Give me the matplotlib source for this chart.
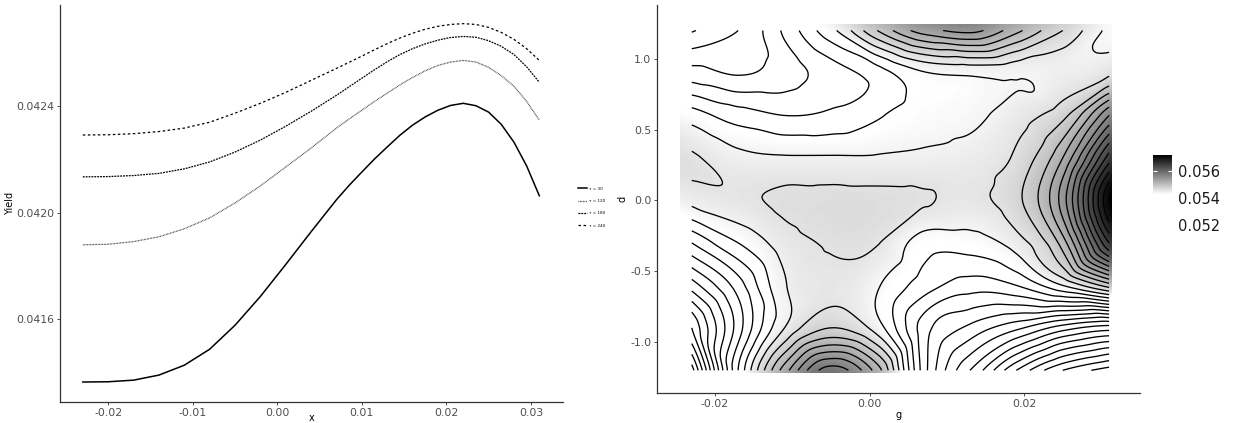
import matplotlib
matplotlib.use("Agg")
import matplotlib.pyplot as plt
import numpy as np
from matplotlib.colors import LinearSegmentedColormap, Normalize
from matplotlib.tri import Triangulation, CubicTriInterpolator

# ---- left panel: yield curves ----
x_vals = [-0.023, -0.020, -0.017, -0.014, -0.011, -0.008, -0.005, -0.002, 0.001,
          0.004, 0.007, 0.0085, 0.010, 0.0115, 0.013, 0.0145, 0.016, 0.0175,
          0.019, 0.0205, 0.022, 0.0235, 0.025, 0.0265, 0.028, 0.0295, 0.031]
yield_30 = [0.041365, 0.041366, 0.041372, 0.041391, 0.041428, 0.041488, 0.041578,
            0.041686, 0.041806, 0.041929, 0.042049, 0.042103, 0.042153, 0.042202,
            0.042247, 0.042291, 0.042329, 0.042360, 0.042385, 0.042403, 0.042411,
            0.042402, 0.042378, 0.042332, 0.042265, 0.042176, 0.042064]
yield_120 = [0.041880, 0.041882, 0.041892, 0.041910, 0.041940, 0.041981, 0.042037,
             0.042101, 0.042172, 0.042243, 0.042318, 0.042352, 0.042385, 0.042418,
             0.042449, 0.042480, 0.042508, 0.042533, 0.042553, 0.042566, 0.042572,
             0.042566, 0.042546, 0.042515, 0.042475, 0.042418, 0.042348]
yield_180 = [0.042135, 0.042136, 0.042140, 0.042148, 0.042165, 0.042191, 0.042228,
             0.042273, 0.042325, 0.042381, 0.042441, 0.042473, 0.042505, 0.042537,
             0.042567, 0.042594, 0.042616, 0.042634, 0.042648, 0.042658, 0.042662,
             0.042659, 0.042646, 0.042625, 0.042594, 0.042548, 0.042490]
yield_240 = [0.042292, 0.042293, 0.042297, 0.042305, 0.042318, 0.042340, 0.042374,
             0.042411, 0.042452, 0.042497, 0.042542, 0.042565, 0.042588, 0.042612,
             0.042635, 0.042656, 0.042674, 0.042689, 0.042700, 0.042707, 0.042710,
             0.042707, 0.042696, 0.042677, 0.042651, 0.042616, 0.042572]
tau_labels = ["\u03c4 = 30", "\u03c4 = 120", "\u03c4 = 180", "\u03c4 = 240"]
x_ticks = [-0.02, -0.01, 0.00, 0.01, 0.02, 0.03]
yield_ticks = [0.0416, 0.0420, 0.0424]

# ---- right panel: yield surface over (g, d) ----
g_vals = [-0.023, -0.017, -0.011, -0.005, 0.001, 0.007, 0.013, 0.019, 0.025, 0.031]
d_vals = [1.2, 0.9, 0.6, 0.3, 0.0, -0.3, -0.6, -0.9, -1.2]
surface = [
    [0.05318, 0.05340, 0.05384, 0.05434, 0.05500, 0.05550, 0.05566, 0.05526, 0.05480, 0.05436],
    [0.05368, 0.05358, 0.05370, 0.05390, 0.05410, 0.05438, 0.05444, 0.05444, 0.05446, 0.05456],
    [0.05430, 0.05410, 0.05400, 0.05404, 0.05418, 0.05430, 0.05436, 0.05450, 0.05474, 0.05560],
    [0.05463, 0.05446, 0.05442, 0.05442, 0.05442, 0.05444, 0.05448, 0.05464, 0.05520, 0.05650],
    [0.05446, 0.05456, 0.05464, 0.05466, 0.05466, 0.05462, 0.05456, 0.05474, 0.05550, 0.05720],
    [0.05380, 0.05420, 0.05450, 0.05462, 0.05461, 0.05430, 0.05430, 0.05450, 0.05510, 0.05660],
    [0.05310, 0.05370, 0.05438, 0.05456, 0.05442, 0.05410, 0.05390, 0.05400, 0.05440, 0.05490],
    [0.05240, 0.05350, 0.05440, 0.05480, 0.05450, 0.05370, 0.05335, 0.05305, 0.05270, 0.05250],
    [0.05170, 0.05380, 0.05510, 0.05590, 0.05530, 0.05370, 0.05280, 0.05200, 0.05140, 0.05110],
]
g_ticks = [-0.02, 0.00, 0.02]
d_ticks = [-1.0, -0.5, 0.0, 0.5, 1.0]
cbar_ticks = [0.052, 0.054, 0.056]

W, H = 1233, 423
fig = plt.figure(figsize=(W / 100, H / 100), dpi=100)
tick_col = "#4d4d4d"

def style_axes(ax):
    for s in ["top", "right"]:
        ax.spines[s].set_visible(False)
    for s in ["left", "bottom"]:
        ax.spines[s].set_color("#333333")
        ax.spines[s].set_linewidth(0.9)
    ax.tick_params(length=2.5, width=0.6, color="#333333", labelsize=7.8,
                   labelcolor=tick_col, pad=1.5)

# left panel
ax1 = fig.add_axes([60 / W, 1 - 402 / H, 503 / W, 397 / H])
ax1.plot(x_vals, yield_30, color="black", lw=1.1, label=tau_labels[0])
ax1.plot(x_vals, yield_120, color="#333333", lw=0.9, dashes=(0.6, 0.6), label=tau_labels[1])
ax1.plot(x_vals, yield_180, color="black", lw=0.9, dashes=(1.5, 0.8), label=tau_labels[2])
ax1.plot(x_vals, yield_240, color="black", lw=0.9, dashes=(2.0, 2.0), label=tau_labels[3])
ax1.set_xlim(-0.0257, 0.0338)
ax1.set_ylim(0.04129, 0.04278)
ax1.set_xticks(x_ticks, labels=[f"{v:.2f}" for v in x_ticks])
ax1.set_yticks(yield_ticks, labels=[f"{v:.4f}" for v in yield_ticks])
ax1.set_xlabel("x", fontsize=7)
ax1.xaxis.set_label_coords(0.5, -0.027)
ax1.set_ylabel("Yield", fontsize=7, labelpad=1)
style_axes(ax1)
fig.legend(loc="upper left", bbox_to_anchor=(574 / W, 1 - 183 / H), fontsize=3,
           frameon=False, handlelength=2.2, labelspacing=2.0, handletextpad=0.5)

# right panel
ax2 = fig.add_axes([657 / W, 1 - 393 / H, 483 / W, 388 / H])
G, D = np.meshgrid(g_vals, d_vals)
Z = np.array(surface)
tri = Triangulation(G.ravel(), D.ravel())
interp = CubicTriInterpolator(tri, Z.ravel(), kind="geom")
gf = np.linspace(min(g_vals) + 1e-7, max(g_vals) - 1e-7, 240)
df = np.linspace(min(d_vals) + 1e-5, max(d_vals) - 1e-5, 200)
GF, DF = np.meshgrid(gf, df)
ZF = interp(GF, DF)

zmin, zmax = 0.0517, 0.0572
cmap = LinearSegmentedColormap.from_list(
    "yield_grey", [(0.0, "white"), (0.47, "white"), (1.0, "black")])
norm = Normalize(vmin=zmin, vmax=zmax)
ax2.imshow(ZF, origin="lower", cmap=cmap, norm=norm, aspect="auto",
           interpolation="bilinear",
           extent=[min(g_vals) - 0.0015, max(g_vals) + 0.0004,
                   min(d_vals) - 0.02, max(d_vals) + 0.04])
levels = np.arange(0.0500, 0.0580, 0.0002)
ax2.contour(GF, DF, ZF, levels=levels, colors="black", linewidths=0.95)
ax2.set_xlim(-0.0275, 0.0350)
ax2.set_ylim(-1.36, 1.38)
ax2.set_xticks(g_ticks, labels=[f"{v:.2f}" for v in g_ticks])
ax2.set_yticks(d_ticks, labels=[f"{v:.1f}" for v in d_ticks])
ax2.set_xlabel("g", fontsize=7, labelpad=1)
ax2.set_ylabel("d", fontsize=7, labelpad=2)
style_axes(ax2)

# colour bar
cax = fig.add_axes([1153 / W, 1 - 229 / H, 19 / W, 74 / H])
grad = np.linspace(zmin, zmax, 256).reshape(-1, 1)
cax.imshow(grad, origin="lower", cmap=cmap, norm=norm, aspect="auto",
           extent=[0, 1, zmin, zmax])
cax.set_xlim(0, 1)
cax.set_ylim(zmin, zmax)
cax.set_xticks([])
cax.yaxis.tick_right()
cax.set_yticks(cbar_ticks, labels=[f"{v:.3f}" for v in cbar_ticks])
cax.tick_params(axis="y", direction="in", length=3, width=0.8, color="white",
                labelsize=10.5, labelcolor="#1a1a1a", pad=4, left=True, right=True)
for s in cax.spines.values():
    s.set_visible(False)

fig.savefig("out.png", dpi=100)
